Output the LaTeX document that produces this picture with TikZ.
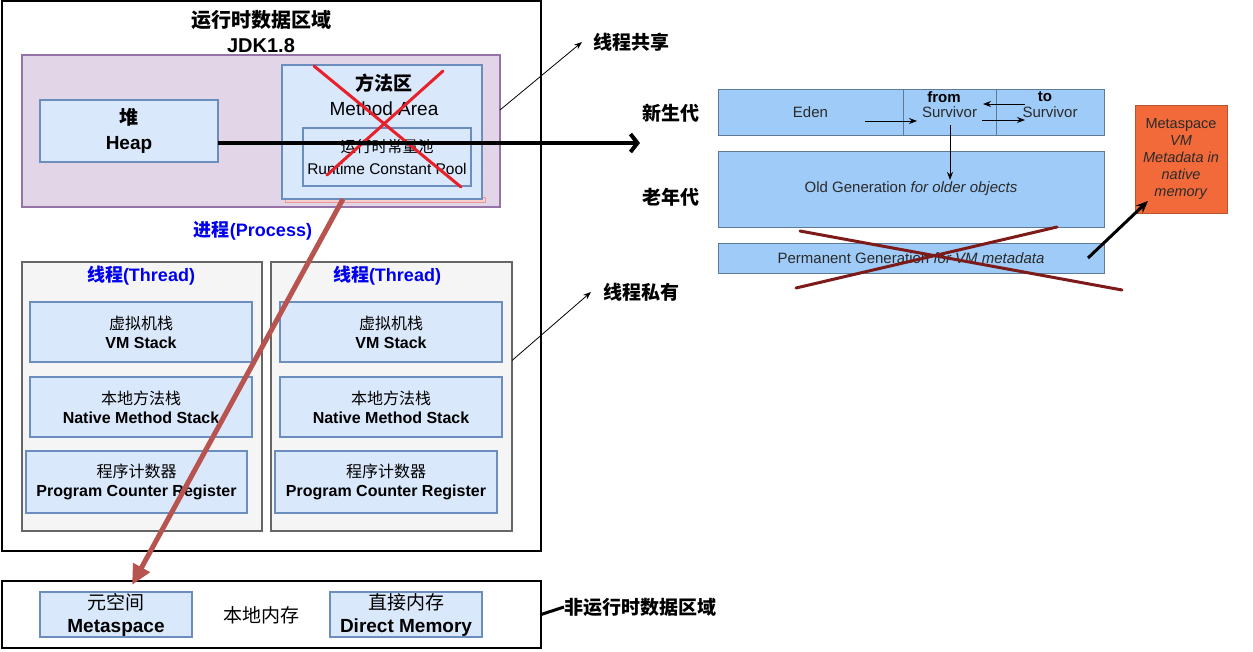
\documentclass[tikz,border=0pt]{standalone}
\usepackage{fontspec}
\setmainfont{Liberation Sans}
\newfontfamily\cjk{Noto Sans CJK SC}
\usetikzlibrary{arrows.meta}
\definecolor{bF}{HTML}{DAE8FC}
\definecolor{bS}{HTML}{6C8EBF}
\definecolor{pF}{HTML}{E1D5E7}
\definecolor{pS}{HTML}{9673A6}
\definecolor{gF}{HTML}{F5F5F5}
\definecolor{gS}{HTML}{666666}
\definecolor{rB}{HTML}{B85450}
\definecolor{rP}{HTML}{F8CECC}
\definecolor{rL}{HTML}{E89A96}
\definecolor{xRed}{HTML}{E8202A}
\definecolor{lbF}{HTML}{9FCBF8}
\definecolor{lbS}{HTML}{5F7A96}
\definecolor{orF}{HTML}{F26A3A}
\definecolor{orS}{HTML}{B5532E}
\definecolor{dRed}{HTML}{7D1A1A}
\definecolor{tBlue}{HTML}{0000EE}
\definecolor{gTxt}{HTML}{2A2A2A}
\newcommand\zh[1]{{\cjk #1}}
\newcommand\fs[2]{\fontsize{#1}{#2}\selectfont}
\begin{document}
\begin{tikzpicture}[x=1pt,y=-1pt,
  every node/.style={inner sep=0pt, outer sep=0pt, align=center},
  outerbox/.style={draw=black, line width=2.5pt, fill=white},
  purplebox/.style={draw=pS, fill=pF, line width=2pt},
  bluebox/.style={draw=bS, fill=bF, line width=2pt},
  threadbox/.style={draw=gS, fill=gF, line width=2pt},
  genbox/.style={draw=lbS, fill=lbF, line width=1pt, text=gTxt, font=\fs{15}{18}},
  stackbox/.style={bluebox, font=\fs{16}{19}\bfseries},
  cnlabel/.style={font=\fs{19}{23}\bfseries\cjk},
  thinarrow/.style={line width=0.8pt, -{Stealth[length=8pt,width=6pt]}},
  genarrow/.style={line width=1pt, -{Stealth[length=8pt,width=6pt]}},
  xmark/.style={line width=3pt, line cap=round}
]
\useasboundingbox (0,0) rectangle (1253,651);
\fill[white] (0,0) rectangle (1253,651);

% runtime data area
\node[outerbox, minimum width=539pt, minimum height=550pt] (outer) at (271.5,276) {};
\node[font=\fs{20}{25}\bfseries] (title) at (261,31.5) {\zh{运行时数据区域}\\JDK1.8};

\node[purplebox, minimum width=478pt, minimum height=152pt] (purple) at (261,131) {};
\node[draw=rL, fill=rP, line width=0.8pt, minimum width=200pt, minimum height=5pt] (strip) at (385,200) {};
\node[bluebox, minimum width=178pt, minimum height=62pt, font=\fs{19}{25}\bfseries] (heap) at (129,131) {\zh{堆}\\Heap};
\node[bluebox, minimum width=200pt, minimum height=134pt] (method) at (382,132) {};
\node[font=\fs{19}{25}] (mtxt) at (384,94.5) {\zh{\bfseries 方法区}\\Method Area};
\node[bluebox, minimum width=168pt, minimum height=58pt, font=\fs{15.5}{22}] (pool) at (387,157) {\zh{运行时常量池}\\Runtime Constant Pool};
\draw[xRed, xmark] (314,66) -- (461,187);
\draw[xRed, xmark] (443,71) -- (327,175);

\node[font=\fs{18}{22}\bfseries, text=tBlue] (process) at (253,231) {\zh{进程}(Process)};

% threads
\node[threadbox, minimum width=240pt, minimum height=269pt] (thr1) at (142,396.5) {};
\node[threadbox, minimum width=241pt, minimum height=269pt] (thr2) at (391.5,396.5) {};
\node[font=\fs{18}{22}\bfseries, text=tBlue] (t1lab) at (141,276) {\zh{线程}(Thread)};
\node[font=\fs{18}{22}\bfseries, text=tBlue] (t2lab) at (387,276) {\zh{线程}(Thread)};

\node[stackbox, minimum width=222pt, minimum height=60pt] (vm1) at (141,332) {\zh{\mdseries 虚拟机栈}\\VM Stack};
\node[stackbox, minimum width=222pt, minimum height=60pt] (vm2) at (391,332) {\zh{\mdseries 虚拟机栈}\\VM Stack};
\node[stackbox, minimum width=222pt, minimum height=60pt] (nm1) at (141,407) {\zh{\mdseries 本地方法栈}\\Native Method Stack};
\node[stackbox, minimum width=222pt, minimum height=60pt] (nm2) at (391,407) {\zh{\mdseries 本地方法栈}\\Native Method Stack};
\node[stackbox, minimum width=221pt, minimum height=62pt] (pc1) at (136.5,482) {\zh{\mdseries 程序计数器}\\Program Counter Register};
\node[stackbox, minimum width=222pt, minimum height=62pt] (pc2) at (386,482) {\zh{\mdseries 程序计数器}\\Program Counter Register};

% native memory
\node[outerbox, minimum width=539pt, minimum height=67pt] (native) at (271.5,614.5) {};
\node[bluebox, minimum width=152pt, minimum height=45pt, font=\fs{19}{23}\bfseries] (meta) at (116,614.5) {\zh{\mdseries 元空间}\\Metaspace};
\node[font=\fs{19}{23}\cjk] (local) at (261,615) {本地内存};
\node[bluebox, minimum width=152pt, minimum height=45pt, font=\fs{19}{23}\bfseries] (direct) at (406,614.5) {\zh{\mdseries 直接内存}\\Direct Memory};

% side labels
\node[cnlabel] (shared) at (631,42) {线程共享};
\node[cnlabel] (priv) at (641,292) {线程私有};
\node[cnlabel] (nonrt) at (640,607) {非运行时数据区域};
\node[cnlabel] (young) at (671,113) {新生代};
\node[cnlabel] (oldlab) at (671,197) {老年代};

% heap generations (JDK 1.7 picture)
\node[genbox, minimum width=185pt, minimum height=46pt] (eden) at (810.5,112) {Eden};
\node[genbox, minimum width=93pt, minimum height=46pt] (fromc) at (949.5,112) {Survivor};
\node[genbox, minimum width=108pt, minimum height=46pt] (toc) at (1050,112) {Survivor};
\node[font=\fs{15}{18}\bfseries] (fromlab) at (944,97) {from};
\node[font=\fs{15}{18}\bfseries] (tolab) at (1045,97) {to};
\node[genbox, minimum width=386pt, minimum height=76pt] (old) at (911,189) {Old Generation \textit{for older objects}};
\node[genbox, minimum width=386pt, minimum height=30pt] (perm) at (911,258) {Permanent Generation \textit{for VM metadata}};
\node[draw=orS, fill=orF, line width=1pt, minimum width=92pt, minimum height=108pt, font=\fs{14.5}{17}, text=gTxt] (ms) at (1181,159) {Metaspace\\\textit{VM}\\\textit{Metadata in}\\\textit{native}\\\textit{memory}};

\draw[genarrow] ([shift={(54.5pt,-9pt)}]eden.center) -- ([shift={(-32.5pt,-9pt)}]fromc.center);
\draw[genarrow] ([shift={(-25pt,8pt)}]toc.center) -- ([shift={(33.5pt,8pt)}]fromc.center);
\draw[genarrow] ([shift={(32.5pt,-8pt)}]fromc.center) -- ([shift={(-25pt,-8pt)}]toc.center);
\draw[genarrow] ([shift={(0.5pt,-13pt)}]fromc.center) -- ([shift={(39pt,9pt)}]old.center);
\draw[dRed, xmark] (800,231) -- (1122,290);
\draw[dRed, xmark] (1057,227) -- (796,288);
\draw[line width=3pt, -{Stealth[length=12pt,width=10pt]}] ([xshift=177pt]perm.center) -- ([shift={(13pt,12pt)}]ms.south west);

% connectors
\coordinate (harrowend) at (640,143);
\coordinate (metaend) at (132,585);
\draw[line width=4pt, -{Straight Barb[length=7pt,width=18pt]}] ([yshift=-12pt]heap.east) -- (harrowend);
\draw[rB, line width=5pt, -{Triangle[length=20pt,width=18pt]}] ([xshift=-39pt]method.south) -- (metaend);
\draw[thinarrow] ([yshift=21pt]purple.east) -- ([xshift=-11pt]shared.west);
\draw[thinarrow] ([yshift=36pt]thr2.east) -- ([xshift=-12pt]priv.west);
\draw[line width=3pt] (native.east) -- (nonrt.west);
\end{tikzpicture}
\end{document}
